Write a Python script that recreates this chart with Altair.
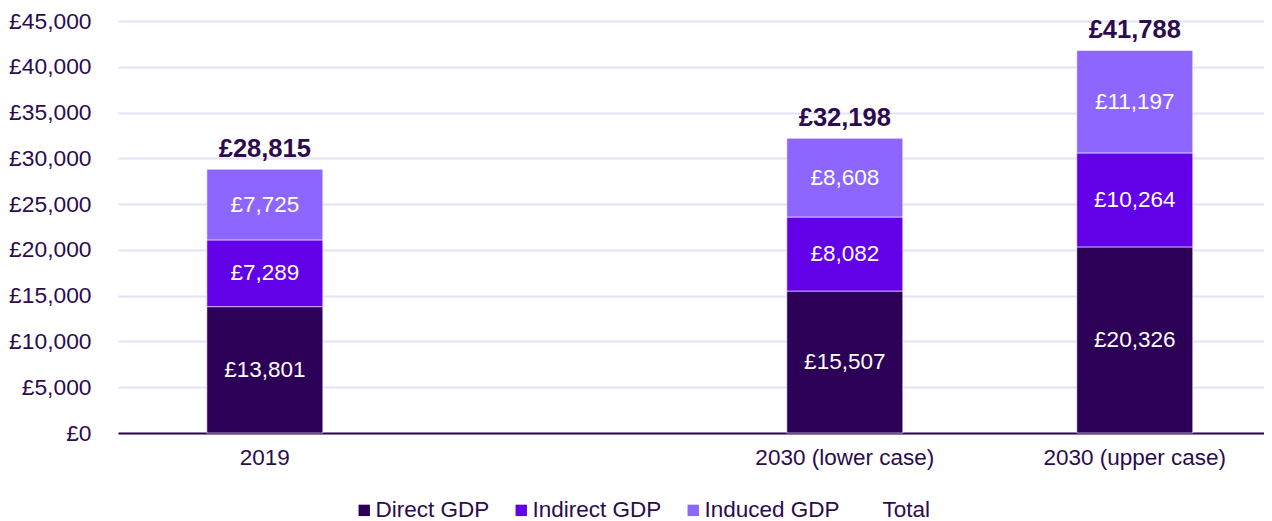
import altair as alt
import pandas as pd

categories = ["2019", "", "2030 (lower case)", "2030 (upper case)"]
bar_categories = ["2019", "2030 (lower case)", "2030 (upper case)"]
series = ["Direct GDP", "Indirect GDP", "Induced GDP"]
direct = [13801, 15507, 20326]
indirect = [7289, 8082, 10264]
induced = [7725, 8608, 11197]
totals = [28815, 32198, 41788]

colors = ["#2D0058", "#6200E8", "#8C66FF", "transparent"]
text_color = "#2C0B4F"
font = "Liberation Sans"
fs = 22.5

rows = []
for i, c in enumerate(bar_categories):
    for j, (s, vals) in enumerate(zip(series, [direct, indirect, induced])):
        rows.append({"cat": c, "series": s, "value": vals[i], "order": j})
df = pd.DataFrame(rows)
tot_df = pd.DataFrame({"cat": bar_categories, "total": totals})

x_scale = alt.Scale(domain=categories, paddingInner=0.6, paddingOuter=0.276, align=0.555)

x_enc = alt.X(
    "cat:N",
    scale=x_scale,
    axis=alt.Axis(
        title=None, labelAngle=0, labelFont=font, labelFontSize=fs,
        labelColor=text_color, ticks=False, domainColor=text_color,
        domainWidth=2, labelPadding=13, grid=False, labelLimit=400,
        labelOverlap=False,
    ),
)

y_scale = alt.Scale(domain=[0, 45000], nice=False)

bars = alt.Chart(df).mark_bar(stroke="white", strokeWidth=0.6).encode(
    x=x_enc,
    y=alt.Y(
        "value:Q", stack="zero", scale=y_scale,
        axis=alt.Axis(
            title=None, values=list(range(0, 45001, 5000)),
            labelExpr='"£" + format(datum.value, ",")',
            labelFont=font, labelFontSize=22.8, labelColor=text_color,
            ticks=False, domain=False, labelPadding=27,
            gridColor="#E6E0FB", gridWidth=2,
        ),
    ),
    color=alt.Color(
        "series:N",
        scale=alt.Scale(domain=series + ["Total"], range=colors),
        legend=alt.Legend(
            title=None, orient="none", direction="horizontal",
            legendX=235, legendY=478, symbolType="square", symbolSize=130,
            symbolStrokeWidth=0, labelFont=font, labelFontSize=fs,
            labelColor=text_color, columnPadding=20, labelOffset=0, padding=0,
        ),
    ),
    order=alt.Order("order:Q"),
)

seg_labels = alt.Chart(df).transform_stack(
    stack="value", groupby=["cat"], as_=["v0", "v1"],
    sort=[alt.SortField("order", order="ascending")],
).transform_calculate(
    mid="(datum.v0 + datum.v1) / 2",
    lab='"£" + format(datum.value, ",")',
).mark_text(
    font=font, fontSize=fs, color="white", baseline="middle"
).encode(
    x=alt.X("cat:N", scale=x_scale),
    y=alt.Y("mid:Q", scale=y_scale),
    text="lab:N",
)

tot_labels = alt.Chart(tot_df).transform_calculate(
    lab='"£" + format(datum.total, ",")'
).mark_text(
    font=font, fontSize=25.5, fontWeight="bold", color=text_color,
    baseline="alphabetic", dy=-12,
).encode(
    x=alt.X("cat:N", scale=x_scale),
    y=alt.Y("total:Q", scale=y_scale),
    text="lab:N",
)

chart = alt.layer(bars, seg_labels, tot_labels).properties(
    width=1146, height=412,
    padding={"top": 2, "left": 0, "right": 0, "bottom": 0},
).configure(background="white").configure_view(stroke=None)

chart.save("out.html", embed_options={"renderer": "svg", "actions": False})
